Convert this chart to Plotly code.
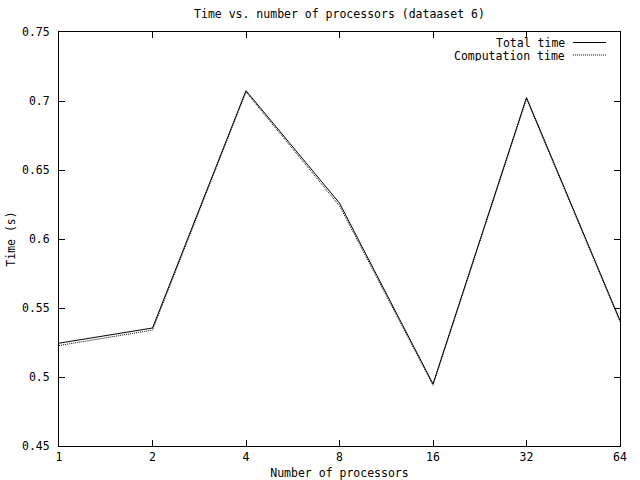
import plotly.graph_objects as go

processors = [1, 2, 4, 8, 16, 32, 64]
total_time = [0.5245, 0.5355, 0.7075, 0.626, 0.4950, 0.7025, 0.5410]
computation_time = [0.5228, 0.5340, 0.7065, 0.6240, 0.4940, 0.7015, 0.5400]

x_tick_vals = [1, 2, 4, 8, 16, 32, 64]
x_tick_text = ["1", "2", "4", "8", "16", "32", "64"]
y_tick_vals = [0.45, 0.5, 0.55, 0.6, 0.65, 0.7, 0.75]
y_tick_text = ["0.45", "0.5", "0.55", "0.6", "0.65", "0.7", "0.75"]

FONT = "DejaVu Sans Mono"
FS = 11.5

fig = go.Figure()
fig.add_trace(go.Scatter(x=processors, y=total_time, mode="lines",
                         name="Total time", line=dict(color="black", width=1)))
fig.add_trace(go.Scatter(x=processors, y=computation_time, mode="lines",
                         name="Computation time",
                         line=dict(color="black", width=1, dash="1px,1px")))

axis_common = dict(showline=True, linecolor="black", linewidth=1, mirror="ticks",
                   ticks="inside", ticklen=6, tickcolor="black", tickwidth=1,
                   showgrid=False, zeroline=False, automargin=False,
                   tickfont=dict(family=FONT, size=FS, color="black"))

fig.update_xaxes(type="log", range=[0, 1.80618], tickvals=x_tick_vals, ticktext=x_tick_text,
                 title=dict(text="Number of processors", standoff=8,
                            font=dict(family=FONT, size=FS, color="black")),
                 **axis_common)
fig.update_yaxes(range=[0.45, 0.75], tickvals=y_tick_vals, ticktext=y_tick_text,
                 ticklabelstandoff=6,
                 title=dict(text="Time (s)", standoff=3,
                            font=dict(family=FONT, size=FS, color="black")),
                 **axis_common)

# legend in gnuplot style: right-aligned text followed by line sample
legend_rows = [("Total time", "solid", 0.9746), ("Computation time", "1px,1px", 0.9444)]
for label, dash, ypos in legend_rows:
    fig.add_annotation(x=0.904, y=ypos, xref="paper", yref="paper", text=label,
                       showarrow=False, xanchor="right", yanchor="middle",
                       height=11, borderpad=0, valign="middle",
                       font=dict(family=FONT, size=FS, color="black"))
    fig.add_shape(type="line", xref="paper", yref="paper", x0=0.916, x1=0.975,
                  y0=ypos, y1=ypos, line=dict(color="black", width=1, dash=dash))

fig.update_layout(
    width=640, height=480,
    margin=dict(l=59, r=20, t=32, b=34),
    paper_bgcolor="white", plot_bgcolor="white",
    showlegend=False,
    title=dict(text="Time vs. number of processors (dataaset 6)", x=0.5304, xanchor="center",
               y=1 - 14 / 480, yanchor="middle", yref="container",
               font=dict(family=FONT, size=FS, color="black")),
)

fig.write_html("out.html", config={"displayModeBar": False},
               post_script="document.body.style.margin='0';")
